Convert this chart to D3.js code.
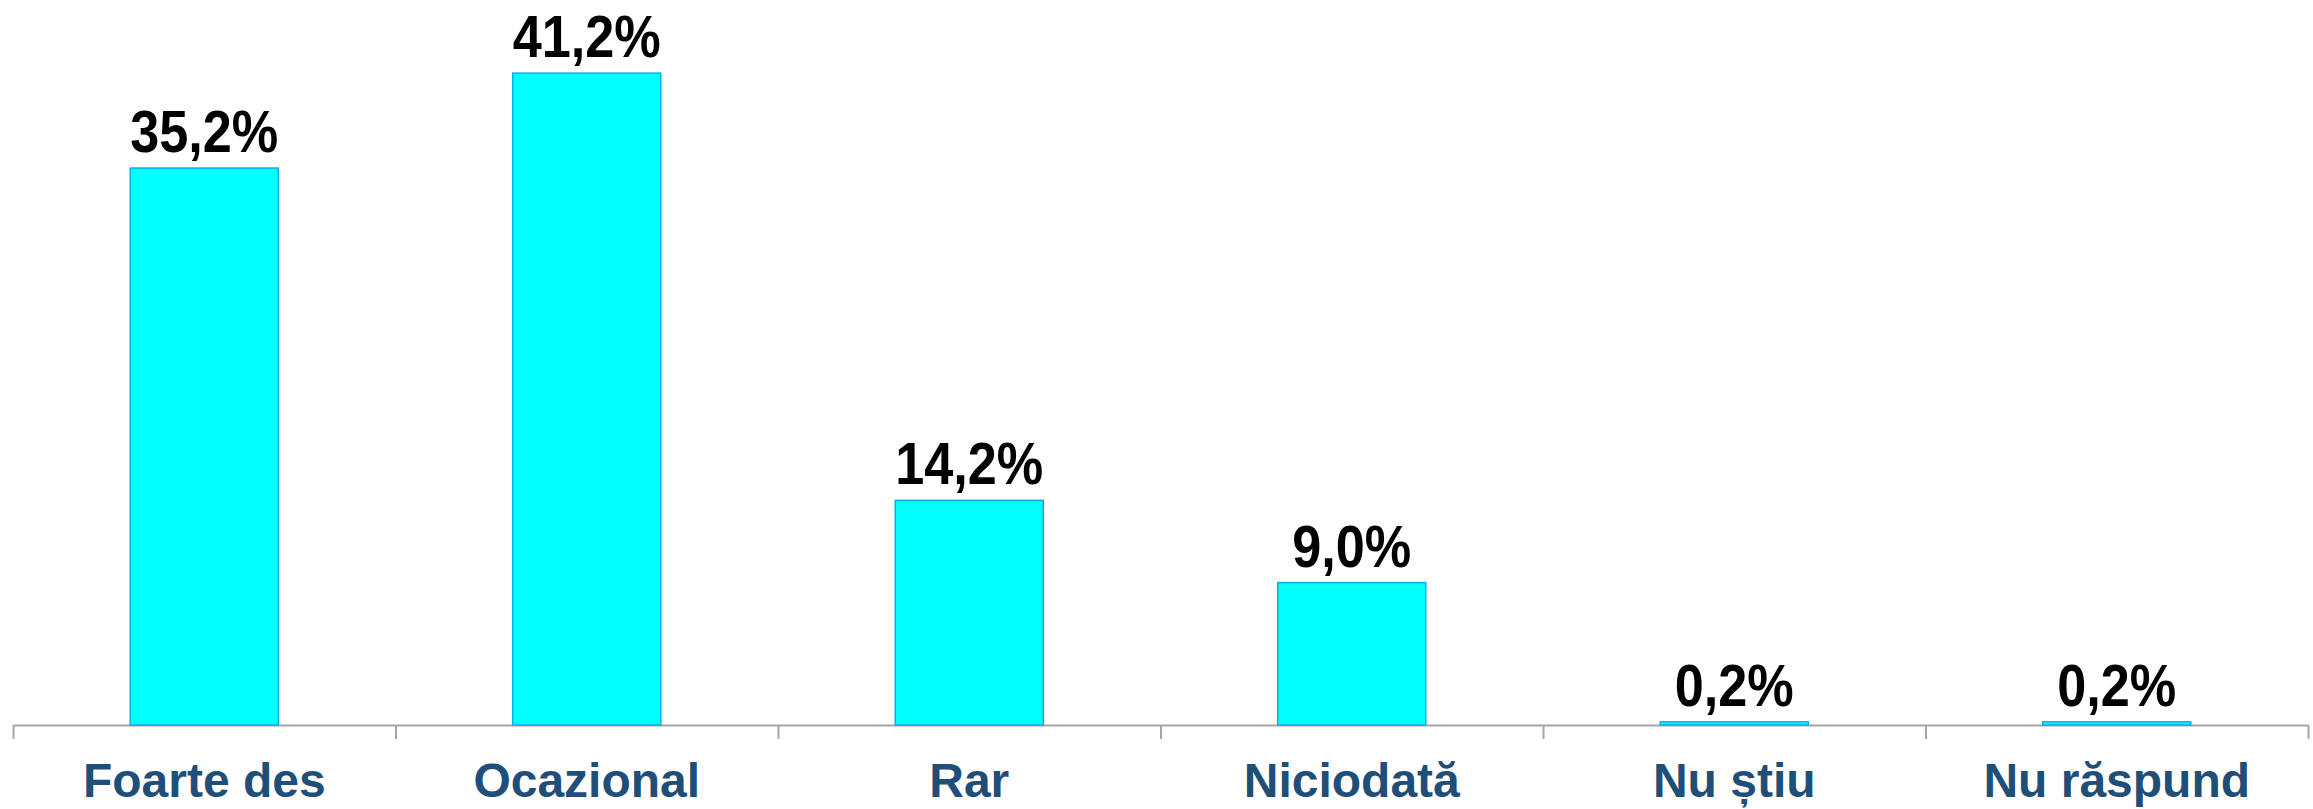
<!DOCTYPE html>
<html>
<head>
<meta charset="utf-8">
<script src="https://cdn.jsdelivr.net/npm/d3@7"></script>
<style>
  body { margin: 0; background: #fff; }
  svg { display: block; }
  .value-label { font-family: "Liberation Sans", Arial, sans-serif; font-weight: bold; fill: #000; }
  .cat-label { font-family: "Liberation Sans", Arial, sans-serif; font-weight: bold; fill: #1f4e79; }
  .x-axis path, .x-axis line { stroke: #a6a6a6; stroke-width: 2; }
</style>
</head>
<body>
<div id="chart"></div>
<script>
const categories = ['Foarte des', 'Ocazional', 'Rar', 'Niciodată', 'Nu știu', 'Nu răspund'];
const values = [35.2, 41.2, 14.2, 9.0, 0.2, 0.2];
const valueLabels = ['35,2%', '41,2%', '14,2%', '9,0%', '0,2%', '0,2%'];

const config = {
  width: 2313,
  height: 809,
  left: 13,
  right: 2308,
  baseline: 725
};

const svg = d3.select('#chart').append('svg')
    .attr('width', config.width)
    .attr('height', config.height);

// bars sit in the middle of each band, ~39% of the band wide
const xScale = d3.scaleBand()
    .domain(categories)
    .range([config.left, config.right])
    .paddingInner(0.613)
    .paddingOuter(0.3065);

const yScale = d3.scaleLinear()
    .domain([0, 45])
    .range([config.baseline, 13]);

// ticks go on the band boundaries, not the centres
const edgeScale = d3.scaleLinear()
    .domain([0, categories.length])
    .range([config.left, config.right]);

const xAxis = d3.axisBottom(edgeScale)
    .tickValues(d3.range(categories.length + 1))
    .tickFormat('')
    .tickSizeInner(14)
    .tickSizeOuter(0);

svg.append('g')
    .attr('class', 'x-axis')
    .attr('transform', `translate(0,${config.baseline})`)
    .call(xAxis);

svg.selectAll('.bar')
    .data(values)
    .join('rect')
    .attr('class', 'bar')
    .attr('x', (d, i) => xScale(categories[i]))
    .attr('y', d => yScale(d))
    .attr('width', xScale.bandwidth())
    .attr('height', d => yScale(0) - yScale(d))
    .attr('fill', '#00ffff')
    .attr('stroke', '#00b0f0')
    .attr('stroke-width', 1.5);

svg.selectAll('.value-label')
    .data(values)
    .join('text')
    .attr('class', 'value-label')
    .attr('text-anchor', 'middle')
    .attr('font-size', 60)
    .attr('transform', (d, i) =>
      `translate(${xScale(categories[i]) + xScale.bandwidth() / 2},${yScale(d) - 16}) scale(0.87,1)`)
    .text((d, i) => valueLabels[i]);

svg.selectAll('.cat-label')
    .data(categories)
    .join('text')
    .attr('class', 'cat-label')
    .attr('text-anchor', 'middle')
    .attr('font-size', 48)
    .attr('x', d => xScale(d) + xScale.bandwidth() / 2)
    .attr('y', 797)
    .text(d => d);
</script>
</body>
</html>
